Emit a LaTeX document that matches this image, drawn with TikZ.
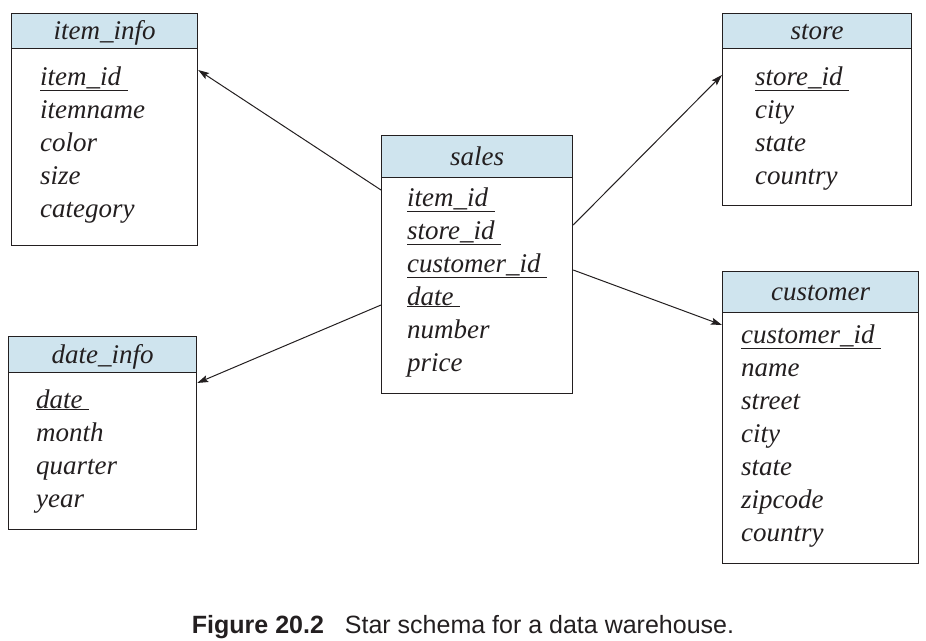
\documentclass[tikz,border=0pt]{standalone}
\usepackage{fontspec}
\setmainfont{Liberation Serif}
\newfontfamily\capfont{Liberation Sans}
\usetikzlibrary{arrows.meta,positioning}
\definecolor{hdrblue}{RGB}{207,228,238}
\definecolor{inkgrey}{RGB}{35,31,32}
\newcommand\keyattr[1]{\underline{#1\ }}
\tikzset{
  hdr/.style={draw=inkgrey, fill=hdrblue, line width=1.2pt, anchor=north west, inner sep=0pt,
    text height=21pt, text depth=4pt, font=\fontsize{27}{33}\selectfont\itshape},
  tblbox/.style={draw=inkgrey, line width=1.2pt, anchor=north west, inner sep=0pt},
  attr/.style={anchor=base west, inner sep=0pt, font=\fontsize{27}{33}\selectfont\itshape},
  link/.style={draw=inkgrey, line width=1pt, -{Stealth[length=11pt,width=7pt,inset=2pt]}}
}

\begin{document}
\begin{tikzpicture}[x=1pt,y=-1pt,color=inkgrey]
\useasboundingbox (0,0) rectangle (926,640);
% item_info
\node[tblbox, minimum width=186pt, minimum height=232pt] (iteminfo) at (11,13) {};
\node[hdr, minimum width=186pt, minimum height=35pt] (iteminfo-hd) at (11,13) {item\_info};
\foreach \t [count=\i from 0] in {\keyattr{item\_id},itemname,color,size,category}
  \node[attr] (iteminfo-\i) at (40,{85+33*\i}) {\t};
% store
\node[tblbox, minimum width=189pt, minimum height=192pt] (store) at (722,13) {};
\node[hdr, minimum width=189pt, minimum height=35pt] (store-hd) at (722,13) {store};
\foreach \t [count=\i from 0] in {\keyattr{store\_id},city,state,country}
  \node[attr] (store-\i) at (755,{85+33*\i}) {\t};
% sales
\node[tblbox, minimum width=191pt, minimum height=258pt] (sales) at (381,135) {};
\node[hdr, minimum width=191pt, minimum height=42pt] (sales-hd) at (381,135) {sales};
\foreach \t [count=\i from 0] in {\keyattr{item\_id},\keyattr{store\_id},\keyattr{customer\_id},\keyattr{date},number,price}
  \node[attr] (sales-\i) at (407,{206+33*\i}) {\t};
% customer
\node[tblbox, minimum width=196pt, minimum height=292pt] (customer) at (722,271) {};
\node[hdr, minimum width=196pt, minimum height=41pt] (customer-hd) at (722,271) {customer};
\foreach \t [count=\i from 0] in {\keyattr{customer\_id},name,street,city,state,zipcode,country}
  \node[attr] (customer-\i) at (741,{343+33*\i}) {\t};
% date_info
\node[tblbox, minimum width=188pt, minimum height=193pt] (dateinfo) at (8,336) {};
\node[hdr, minimum width=188pt, minimum height=36pt] (dateinfo-hd) at (8,336) {date\_info};
\foreach \t [count=\i from 0] in {\keyattr{date},month,quarter,year}
  \node[attr] (dateinfo-\i) at (36,{408+33*\i}) {\t};
% links from the fact table
\draw[link] (sales.west |- 0,190) -- (iteminfo.east |- 0,70);
\draw[link] (sales.east |- 0,225) -- (store.west |- 0,75);
\draw[link] (sales.west |- 0,305) -- (dateinfo.east |- 0,383);
\draw[link] (sales.east |- 0,270) -- (customer.west |- 0,325);
% caption
\node[anchor=base, inner sep=0pt, font=\capfont\fontsize{25}{30}\selectfont] (caption) at (463,633)
  {\textbf{Figure 20.2}\hspace{21pt}Star schema for a data warehouse.};
\end{tikzpicture}
\end{document}
